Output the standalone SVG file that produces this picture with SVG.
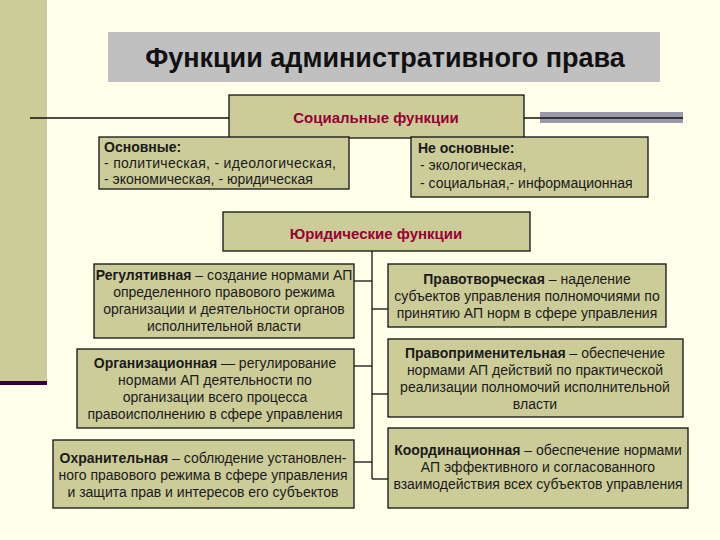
<svg xmlns="http://www.w3.org/2000/svg" width="720" height="540" viewBox="0 0 720 540">
<style>
.box{fill:#CCCC99;stroke:#111;stroke-width:1.3}
.t{font-family:"Liberation Sans",Arial,sans-serif;font-size:14px;fill:#1a1a1a}
.c{text-anchor:middle}
.h{font-family:"Liberation Sans",Arial,sans-serif;font-size:15px;font-weight:bold;fill:#990033;text-anchor:middle}
.ln{stroke:#111;stroke-width:1.3;fill:none}
</style>
<rect width="720" height="540" fill="#FFFFEA"/>
<rect x="0" y="0" width="47" height="381" fill="#CCCC99"/>
<rect x="0" y="381" width="47" height="4" fill="#330033"/>
<g id="title">
<rect x="108" y="32" width="552" height="50" fill="#C0C0C0"/>
<text x="385" y="67" class="c" font-family="Liberation Sans,Arial,sans-serif" font-size="27" font-weight="bold" fill="#111">Функции административного права</text>
</g>
<rect x="540" y="112" width="143" height="11" fill="#9999AA"/>
<g id="connectors">
<line class="ln" x1="30" y1="118" x2="683" y2="118" stroke-width="2.2"/>
<line class="ln" x1="372" y1="251" x2="372" y2="479"/>
<line class="ln" x1="354" y1="281" x2="372" y2="281"/>
<line class="ln" x1="354" y1="366" x2="372" y2="366"/>
<line class="ln" x1="354" y1="462" x2="372" y2="462"/>
<line class="ln" x1="372" y1="309" x2="388" y2="309"/>
<line class="ln" x1="372" y1="394" x2="388" y2="394"/>
<line class="ln" x1="372" y1="479" x2="388" y2="479"/>
</g>
<g id="social">
<rect class="box" x="229" y="95" width="295" height="43"/>
<text x="376" y="123" class="h">Социальные функции</text>
</g>
<g id="main">
<rect class="box" x="99" y="137" width="250" height="52"/>
<text class="t" x="104" y="152" font-weight="bold">Основные:</text>
<text class="t" x="104" y="168" textLength="232">- политическая,  - идеологическая,</text>
<text class="t" x="104" y="184">- экономическая, - юридическая</text>
</g>
<g id="nonmain">
<rect class="box" x="411" y="137" width="237" height="60"/>
<text class="t" x="418" y="153" font-weight="bold">Не основные:</text>
<text class="t" x="420" y="170">- экологическая,</text>
<text class="t" x="420" y="188">- социальная,- информационная</text>
</g>
<g id="legal">
<rect class="box" x="223" y="212" width="307" height="39"/>
<text x="376" y="239" class="h">Юридические функции</text>
</g>
<g id="reg">
<rect class="box" x="94" y="264" width="260" height="74"/>
<text class="t c" x="224" y="280"><tspan font-weight="bold">Регулятивная</tspan> – создание нормами АП</text>
<text class="t c" x="224" y="297">определенного правового режима</text>
<text class="t c" x="224" y="314">организации и деятельности органов</text>
<text class="t c" x="224" y="331">исполнительной власти</text>
</g>
<g id="org">
<rect class="box" x="77" y="349" width="277" height="79"/>
<text class="t c" x="215" y="368"><tspan font-weight="bold">Организационная</tspan> — регулирование</text>
<text class="t c" x="215" y="385">нормами АП деятельности по</text>
<text class="t c" x="215" y="402">организации всего процесса</text>
<text class="t c" x="215" y="419">правоисполнению в сфере управления</text>
</g>
<g id="okhr">
<rect class="box" x="53" y="440" width="301" height="68"/>
<text class="t c" x="203" y="463"><tspan font-weight="bold">Охранительная</tspan> – соблюдение установлен-</text>
<text class="t c" x="203" y="480">ного правового режима в сфере управления</text>
<text class="t c" x="203" y="497">и защита прав и интересов его субъектов</text>
</g>
<g id="pravotv">
<rect class="box" x="388" y="264" width="278" height="63"/>
<text class="t c" x="527" y="284"><tspan font-weight="bold">Правотворческая</tspan> – наделение</text>
<text class="t c" x="527" y="301">субъектов управления полномочиями по</text>
<text class="t c" x="527" y="318">принятию АП норм  в сфере управления</text>
</g>
<g id="pravoprim">
<rect class="box" x="388" y="339" width="295" height="78"/>
<text class="t c" x="535" y="358"><tspan font-weight="bold">Правоприменительная</tspan> – обеспечение</text>
<text class="t c" x="535" y="375">нормами АП действий по практической</text>
<text class="t c" x="535" y="392">реализации полномочий исполнительной</text>
<text class="t c" x="535" y="409">власти</text>
</g>
<g id="koord">
<rect class="box" x="388" y="428" width="300" height="80"/>
<text class="t c" x="538" y="455"><tspan font-weight="bold">Координационная</tspan> – обеспечение нормами</text>
<text class="t c" x="538" y="472">АП эффективного и согласованного</text>
<text class="t c" x="538" y="489">взаимодействия всех субъектов управления</text>
</g>
</svg>
